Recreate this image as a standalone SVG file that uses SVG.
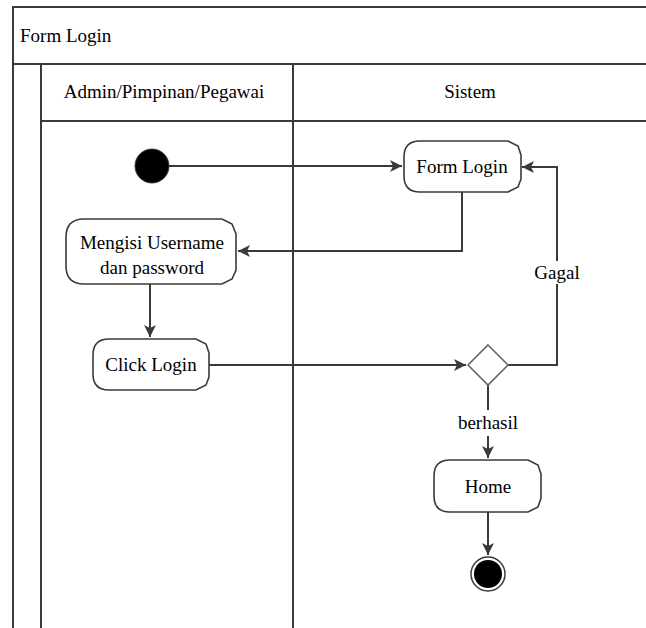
<svg xmlns="http://www.w3.org/2000/svg" width="646" height="628" viewBox="0 0 646 628">
<style>
.frame{fill:none;stroke:#3a3a3a;stroke-width:2}
.node{fill:#fff;stroke:#3a3a3a;stroke-width:1.6}
.con{fill:none;stroke:#3a3a3a;stroke-width:2}
.c{text-anchor:middle}
</style>
<defs>
<marker id="ah" viewBox="0 0 12 12" refX="12" refY="6" markerWidth="12" markerHeight="12" markerUnits="userSpaceOnUse" orient="auto">
<path d="M0,0 L12,6 L0,12 L3,6 Z" fill="#3a3a3a"/>
</marker>
</defs>
<rect width="646" height="628" fill="#fff"/>
<g font-family="'Liberation Serif', 'Times New Roman', serif" font-size="19" fill="#000">
<g id="pool">
<path class="frame" d="M13,628 V7 H646 M13,64 H646 M41,628 V64 M293,628 V64 M41,121 H646"/>
<text x="20" y="42">Form Login</text>
<text class="c" x="164" y="98">Admin/Pimpinan/Pegawai</text>
<text class="c" x="470" y="98">Sistem</text>
</g>
<g id="connectors">
<path class="con" d="M169,166 H402" marker-end="url(#ah)"/>
<path class="con" d="M462,192 V251 H238" marker-end="url(#ah)"/>
<path class="con" d="M150,284 V337" marker-end="url(#ah)"/>
<path class="con" d="M209,365 H466" marker-end="url(#ah)"/>
<path class="con" d="M508,365 H557 V167 H522" marker-end="url(#ah)"/>
<path class="con" d="M488,385 V410 M488,436 V458" marker-end="url(#ah)"/>
<path class="con" d="M488,512 V555" marker-end="url(#ah)"/>
<rect x="532" y="261" width="50" height="23" fill="#fff"/>
<text class="c" x="557" y="279">Gagal</text>
<text class="c" x="488" y="429">berhasil</text>
</g>
<g id="start"><circle cx="152" cy="166" r="17" fill="#000" stroke="#3a3a3a" stroke-width="1"/></g>
<g id="formlogin">
<path class="node" d="M420,141 H508 L518,146 L521,155 V179 L518,187 L508,192 H420 Q404,192 404,176 V157 Q404,141 420,141 Z"/>
<text class="c" x="462" y="173">Form  Login</text>
</g>
<g id="mengisi">
<path class="node" d="M84,219 H222 L232,224 L236,234 V270 L232,279 L222,284 H84 Q66,284 66,266 V237 Q66,219 84,219 Z"/>
<text class="c" x="152" y="249">Mengisi Username</text>
<text class="c" x="152" y="274">dan password</text>
</g>
<g id="click">
<path class="node" d="M109,339 H196 L206,344 L209,353 V377 L206,385 L196,390 H109 Q93,390 93,374 V355 Q93,339 109,339 Z"/>
<text class="c" x="151" y="371">Click Login</text>
</g>
<g id="decision">
<path d="M488,345 L508,365 L488,385 L468,365 Z" fill="#fff" stroke="#666" stroke-width="1.6"/>
</g>
<g id="home">
<path class="node" d="M450,460 H528 L538,465 L541,474 V498 L538,507 L528,512 H450 Q434,512 434,496 V476 Q434,460 450,460 Z"/>
<text class="c" x="488" y="493">Home</text>
</g>
<g id="end">
<circle cx="488" cy="574" r="17" fill="#fff" stroke="#3a3a3a" stroke-width="1.5"/>
<circle cx="488" cy="574" r="14" fill="#000"/>
</g>
</g>
</svg>
